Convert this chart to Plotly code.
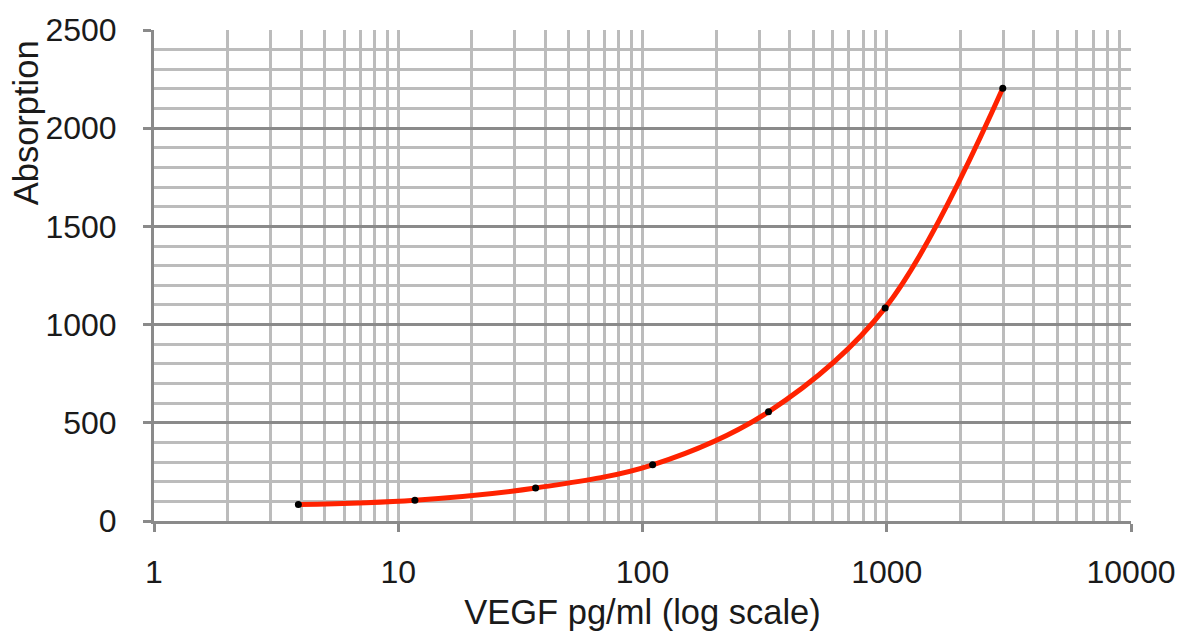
import plotly.graph_objects as go

# VEGF standard curve: concentration (pg/ml) vs absorption
vegf_pg_ml = [3.9, 11.7, 36.5, 110, 328, 985, 2985]
absorption = [84, 106, 168, 286, 556, 1085, 2203]

x_major_ticks = [1, 10, 100, 1000, 10000]
x_tick_labels = ["1", "10", "100", "1000", "10000"]
x_minor_ticks = [m * d for d in (1, 10, 100, 1000) for m in range(2, 10)]
y_major_ticks = [0, 500, 1000, 1500, 2000, 2500]

FONT = "Liberation Sans, Arial, sans-serif"
MAJOR = "#8a8a8a"
MINOR = "#bcbcbc"
TEXT = "#1a1a1a"

fig = go.Figure()

# smooth red standard curve
fig.add_trace(go.Scatter(
    x=vegf_pg_ml, y=absorption,
    mode="lines",
    line=dict(color="#ff2200", width=5, shape="spline", smoothing=1.0),
    hoverinfo="skip",
    showlegend=False,
))

# measured standards
fig.add_trace(go.Scatter(
    x=vegf_pg_ml, y=absorption,
    mode="markers",
    marker=dict(color="black", size=7),
    showlegend=False,
))

fig.update_xaxes(
    type="log",
    range=[0, 4],
    tickmode="array",
    tickvals=x_major_ticks,
    ticktext=x_tick_labels,
    ticks="outside",
    ticklen=8,
    tickwidth=3,
    tickcolor=MAJOR,
    ticklabelstandoff=13,
    showgrid=True,
    gridcolor=MINOR,
    gridwidth=3,
    minor=dict(tickmode="array", tickvals=x_minor_ticks, showgrid=True,
               gridcolor=MINOR, gridwidth=3, ticks=""),
    showline=True,
    linecolor=MAJOR,
    linewidth=3,
    zeroline=False,
    tickfont=dict(family=FONT, size=32, color=TEXT),
    title=dict(text="VEGF pg/ml (log scale)", standoff=11,
               font=dict(family=FONT, size=34.5, color=TEXT)),
)

fig.update_yaxes(
    range=[0, 2500],
    tickmode="array",
    tickvals=y_major_ticks,
    ticks="outside",
    ticklen=8,
    tickwidth=3,
    tickcolor=MAJOR,
    ticklabelstandoff=20,
    showgrid=True,
    gridcolor=MAJOR,
    gridwidth=3,
    minor=dict(dtick=100, showgrid=True, gridcolor=MINOR, gridwidth=3, ticks=""),
    showline=True,
    linecolor=MAJOR,
    linewidth=3,
    zeroline=False,
    tickfont=dict(family=FONT, size=32, color=TEXT),
)

# y-axis title sits near the top of the axis
fig.add_annotation(
    text="Absorption", textangle=-90,
    xref="paper", yref="paper",
    x=-0.131, y=0.81, xanchor="center", yanchor="middle",
    showarrow=False,
    font=dict(family=FONT, size=34.5, color=TEXT),
)

fig.update_layout(
    width=1189, height=639,
    margin=dict(l=154, r=58, t=25, b=118),
    paper_bgcolor="white",
    plot_bgcolor="white",
)

fig.write_html("out.html")
